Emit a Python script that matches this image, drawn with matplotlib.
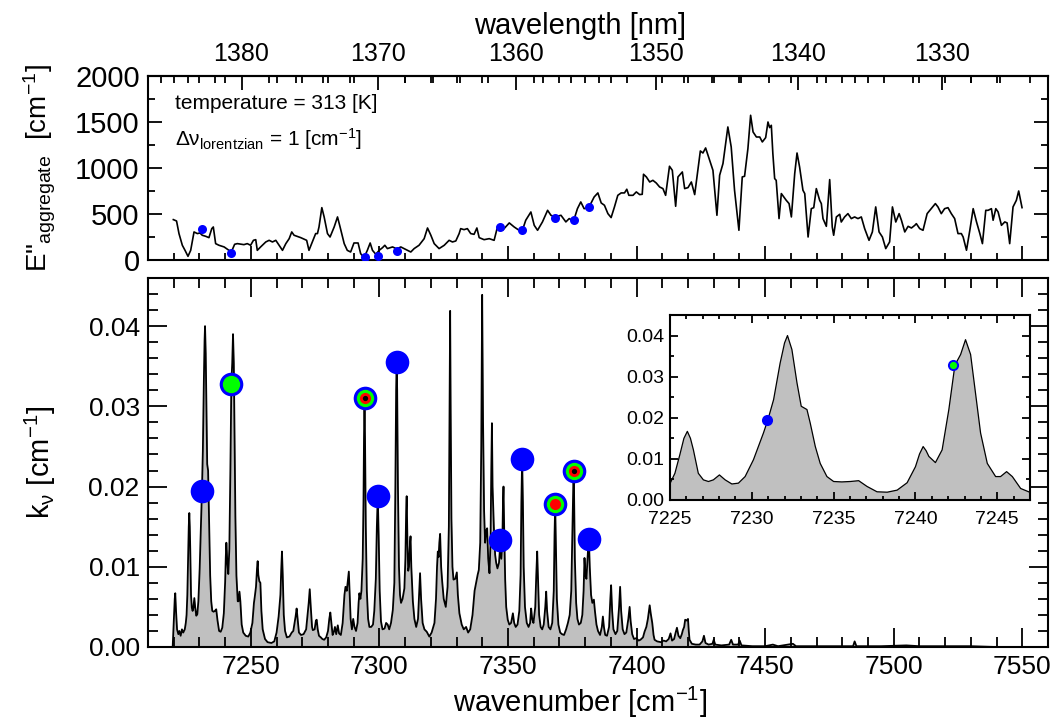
import matplotlib
matplotlib.use("Agg")
import matplotlib.pyplot as plt
from matplotlib.ticker import MultipleLocator, FixedLocator, FormatStrFormatter

plt.rcParams["font.family"] = ["Liberation Sans", "DejaVu Sans"]
plt.rcParams["mathtext.fontset"] = "custom"
plt.rcParams["mathtext.rm"] = "Liberation Sans"
plt.rcParams["mathtext.it"] = "Liberation Sans"

# absorption spectrum k_nu [cm-1] vs wavenumber [cm-1]
spec_wn = [
    7219.0, 7219.6, 7220.0, 7220.4, 7220.6, 7220.9, 7221.3, 7221.8, 7222.2, 7222.7,
    7223.2, 7223.7, 7224.3, 7224.7, 7225.0, 7225.3, 7225.6, 7225.85, 7226.06, 7226.25,
    7226.43, 7226.73, 7227.04, 7227.35, 7227.65, 7228.02, 7228.37, 7228.78, 7229.18, 7229.59,
    7230.1, 7230.71, 7230.98, 7231.33, 7231.73, 7232.0, 7232.18, 7232.45, 7232.76, 7233.02,
    7233.2, 7233.37, 7233.57, 7233.88, 7234.18, 7234.59, 7235.0, 7235.5, 7236.02, 7236.53,
    7237.04, 7237.65, 7238.27, 7238.88, 7239.49, 7240.0, 7240.25, 7240.47, 7240.65, 7240.82,
    7241.22, 7241.63, 7242.04, 7242.41, 7242.76, 7243.06, 7243.37, 7243.67, 7243.98, 7244.39,
    7244.9, 7245.2, 7245.57, 7245.92, 7246.43, 7247.04, 7248.0, 7249.0, 7249.8, 7250.6,
    7251.2, 7251.5, 7252.0, 7252.4, 7252.65, 7252.9, 7253.3, 7253.7, 7254.1, 7254.6,
    7255.5, 7256.5, 7258.0, 7259.1, 7260.0, 7260.8, 7261.5, 7261.8, 7262.1, 7262.4,
    7262.8, 7263.3, 7264.0, 7265.0, 7265.9, 7266.5, 7267.4, 7267.8, 7268.2, 7268.7,
    7269.5, 7270.5, 7271.5, 7272.5, 7272.9, 7273.3, 7273.8, 7274.1, 7274.8, 7275.3,
    7275.6, 7276.0, 7276.5, 7277.2, 7277.8, 7278.5, 7279.3, 7280.0, 7280.5, 7280.9,
    7281.3, 7281.8, 7282.3, 7282.7, 7283.2, 7283.8, 7284.3, 7285.0, 7285.7, 7286.4,
    7286.8, 7287.3, 7287.8, 7288.1, 7288.4, 7288.8, 7289.3, 7289.8, 7290.3, 7290.9,
    7291.5, 7291.9, 7292.2, 7292.6, 7293.0, 7293.5, 7293.8, 7294.0, 7294.2, 7294.4,
    7294.7, 7295.1, 7295.6, 7296.1, 7296.8, 7297.5, 7298.0, 7298.6, 7299.0, 7299.35,
    7299.7, 7300.1, 7300.6, 7301.2, 7302.0, 7302.6, 7303.2, 7303.8, 7304.5, 7305.2,
    7305.8, 7306.2, 7306.5, 7306.7, 7306.9, 7307.2, 7307.6, 7308.0, 7308.4, 7309.0,
    7309.7, 7310.1, 7310.4, 7310.6, 7310.9, 7311.2, 7311.5, 7311.9, 7312.1, 7312.4,
    7313.0, 7313.6, 7314.3, 7315.0, 7315.5, 7315.8, 7316.2, 7316.8, 7317.5, 7318.4,
    7319.4, 7320.3, 7321.4, 7322.0, 7322.4, 7322.7, 7323.0, 7323.3, 7323.6, 7324.0,
    7324.4, 7325.0, 7325.8, 7326.5, 7327.0, 7327.3, 7327.5, 7327.7, 7328.0, 7328.4,
    7328.8, 7329.5, 7330.1, 7330.5, 7331.1, 7332.0, 7332.8, 7333.7, 7334.5, 7335.3,
    7336.2, 7337.0, 7337.6, 7338.2, 7338.65, 7339.2, 7339.6, 7339.95, 7340.3, 7340.7,
    7341.1, 7341.5, 7341.9, 7342.3, 7342.8, 7343.2, 7343.5, 7343.75, 7344.0, 7344.5,
    7345.0, 7345.4, 7345.9, 7346.5, 7347.0, 7347.4, 7347.8, 7348.05, 7348.25, 7348.5,
    7348.9, 7349.3, 7349.9, 7350.5, 7351.2, 7351.9, 7352.4, 7353.0, 7353.7, 7354.4,
    7354.9, 7355.2, 7355.5, 7355.8, 7356.1, 7356.6, 7357.3, 7358.0, 7358.6, 7359.0,
    7359.4, 7359.9, 7360.6, 7361.0, 7361.35, 7361.7, 7362.1, 7362.7, 7363.3, 7363.9,
    7364.5, 7364.85, 7365.2, 7365.8, 7366.5, 7367.2, 7367.8, 7368.1, 7368.35, 7368.6,
    7369.0, 7369.6, 7370.3, 7371.0, 7371.8, 7372.6, 7373.3, 7374.0, 7374.6, 7375.0,
    7375.3, 7375.5, 7375.7, 7376.0, 7376.5, 7377.0, 7377.6, 7378.3, 7378.9, 7379.4,
    7379.75, 7380.1, 7380.5, 7381.1, 7381.45, 7381.8, 7382.3, 7382.8, 7383.4, 7383.8,
    7384.4, 7385.0, 7385.8, 7386.5, 7386.9, 7387.3, 7387.8, 7388.5, 7389.3, 7389.8,
    7390.1, 7390.5, 7391.0, 7391.8, 7392.5, 7393.2, 7393.6, 7394.0, 7394.6, 7395.3,
    7396.0, 7396.8, 7397.3, 7397.7, 7398.3, 7399.0, 7399.9, 7400.8, 7401.5, 7402.5,
    7403.1, 7403.8, 7404.4, 7404.8, 7405.1, 7405.5, 7406.1, 7406.6, 7407.0, 7408.0,
    7409.5, 7410.5, 7411.5, 7412.5, 7413.2, 7413.8, 7414.6, 7415.2, 7415.7, 7416.3,
    7417.0, 7417.6, 7418.0, 7418.5, 7418.9, 7419.5, 7420.0, 7420.3, 7420.6, 7421.5,
    7423.0, 7424.5, 7425.6, 7426.2, 7426.8, 7428.0, 7429.5, 7430.0, 7430.6, 7433.0,
    7436.0, 7436.8, 7437.5, 7439.5, 7440.1, 7440.8, 7445.0, 7450.0, 7453.0, 7455.0,
    7460.8, 7462.0, 7470.0, 7484.2, 7484.8, 7485.5, 7495.0, 7504.9, 7510.0, 7520.0,
    7530.0, 7540.0, 7555.0,
]
spec_k = [
    0.0, 0.0, 0.0030, 0.0060, 0.0067, 0.0045, 0.0022, 0.0016, 0.0020, 0.0014,
    0.0022, 0.0018, 0.0022, 0.0030, 0.0040, 0.0065, 0.0110, 0.0150, 0.0167, 0.0150,
    0.0122, 0.0065, 0.0049, 0.0045, 0.0049, 0.0061, 0.0049, 0.0039, 0.0041, 0.0057,
    0.0098, 0.0163, 0.0195, 0.0244, 0.0333, 0.0382, 0.0400, 0.0366, 0.0285, 0.0228,
    0.0224, 0.0220, 0.0187, 0.0130, 0.0089, 0.0057, 0.0045, 0.0044, 0.0045, 0.0047,
    0.0033, 0.0020, 0.0019, 0.0024, 0.0042, 0.0081, 0.0112, 0.0130, 0.0120, 0.0106,
    0.0091, 0.0122, 0.0220, 0.0328, 0.0354, 0.0390, 0.0354, 0.0260, 0.0163, 0.0089,
    0.0057, 0.0057, 0.0069, 0.0057, 0.0028, 0.0018, 0.0014, 0.0013, 0.0018, 0.0030,
    0.0055, 0.0062, 0.0075, 0.0098, 0.0107, 0.0090, 0.0082, 0.0080, 0.0045, 0.0022,
    0.0010, 0.0006, 0.0005, 0.0007, 0.0018, 0.0038, 0.0065, 0.0095, 0.0119, 0.0090,
    0.0040, 0.0020, 0.0012, 0.0013, 0.0018, 0.0020, 0.0038, 0.0048, 0.0035, 0.0018,
    0.0015, 0.0016, 0.0022, 0.0055, 0.0072, 0.0050, 0.0025, 0.0021, 0.0022, 0.0033,
    0.0034, 0.0022, 0.0014, 0.0012, 0.0010, 0.0009, 0.0012, 0.0020, 0.0035, 0.0043,
    0.0030, 0.0015, 0.0019, 0.0025, 0.0016, 0.0027, 0.0017, 0.0015, 0.0030, 0.0065,
    0.0075, 0.0070, 0.0085, 0.0094, 0.0070, 0.0035, 0.0022, 0.0035, 0.0025, 0.0020,
    0.0030, 0.0055, 0.0067, 0.0060, 0.0070, 0.0110, 0.0180, 0.0260, 0.0310, 0.0260,
    0.0150, 0.0070, 0.0035, 0.0025, 0.0025, 0.0028, 0.0045, 0.0085, 0.0150, 0.0188,
    0.0140, 0.0070, 0.0032, 0.0022, 0.0023, 0.0030, 0.0028, 0.0022, 0.0030, 0.0046,
    0.0080, 0.0200, 0.0320, 0.0355, 0.0320, 0.0200, 0.0100, 0.0065, 0.0055, 0.0060,
    0.0073, 0.0110, 0.0170, 0.0188, 0.0130, 0.0095, 0.0100, 0.0130, 0.0138, 0.0100,
    0.0057, 0.0035, 0.0025, 0.0035, 0.0070, 0.0092, 0.0060, 0.0030, 0.0022, 0.0019,
    0.0013, 0.0018, 0.0030, 0.0060, 0.0100, 0.0119, 0.0112, 0.0130, 0.0141, 0.0100,
    0.0082, 0.0060, 0.0050, 0.0075, 0.0150, 0.0300, 0.0419, 0.0300, 0.0160, 0.0100,
    0.0084, 0.0085, 0.0093, 0.0065, 0.0042, 0.0028, 0.0022, 0.0025, 0.0018, 0.0022,
    0.0040, 0.0070, 0.0080, 0.0090, 0.0096, 0.0130, 0.0250, 0.0439, 0.0280, 0.0170,
    0.0130, 0.0145, 0.0148, 0.0110, 0.0092, 0.0130, 0.0220, 0.0279, 0.0200, 0.0150,
    0.0115, 0.0105, 0.0098, 0.0105, 0.0128, 0.0110, 0.0130, 0.0180, 0.0200, 0.0150,
    0.0084, 0.0050, 0.0034, 0.0028, 0.0030, 0.0042, 0.0030, 0.0025, 0.0028, 0.0045,
    0.0090, 0.0180, 0.0234, 0.0180, 0.0100, 0.0050, 0.0030, 0.0025, 0.0030, 0.0048,
    0.0035, 0.0030, 0.0050, 0.0090, 0.0119, 0.0080, 0.0040, 0.0025, 0.0022, 0.0028,
    0.0050, 0.0069, 0.0045, 0.0025, 0.0022, 0.0030, 0.0070, 0.0140, 0.0178, 0.0130,
    0.0060, 0.0028, 0.0018, 0.0016, 0.0015, 0.0022, 0.0030, 0.0040, 0.0070, 0.0140,
    0.0200, 0.0220, 0.0190, 0.0110, 0.0055, 0.0035, 0.0028, 0.0030, 0.0040, 0.0070,
    0.0111, 0.0090, 0.0085, 0.0120, 0.0135, 0.0100, 0.0065, 0.0055, 0.0059, 0.0045,
    0.0028, 0.0020, 0.0015, 0.0025, 0.0038, 0.0025, 0.0015, 0.0014, 0.0025, 0.0060,
    0.0077, 0.0045, 0.0022, 0.0016, 0.0020, 0.0050, 0.0075, 0.0045, 0.0022, 0.0016,
    0.0018, 0.0035, 0.0050, 0.0032, 0.0016, 0.0010, 0.0011, 0.0008, 0.0009, 0.0012,
    0.0019, 0.0025, 0.0035, 0.0045, 0.0052, 0.0042, 0.0030, 0.0015, 0.0009, 0.0007,
    0.0006, 0.0008, 0.0007, 0.0010, 0.0017, 0.0008, 0.0010, 0.0018, 0.0024, 0.0014,
    0.0011, 0.0016, 0.0021, 0.0025, 0.0034, 0.0033, 0.0035, 0.0020, 0.0009, 0.0004,
    0.0003, 0.0003, 0.0007, 0.0014, 0.0005, 0.0003, 0.0004, 0.0009, 0.0003, 0.0002,
    0.0003, 0.0009, 0.0003, 0.0003, 0.0008, 0.0002, 0.0001, 0.0001, 0.0003, 0.0001,
    0.0004, 0.0001, 0.0001, 0.0001, 0.0007, 0.0001, 0.0001, 0.0002, 0.0001, 0.0001,
    0.0001, 0.0, 0.0,
]

# aggregate lower-state energy E'' [cm-1] vs wavenumber
e_wn = [
    7219.85, 7221.1, 7222.05, 7223.35, 7224.4, 7225.55, 7226.6, 7227.9, 7229.2, 7230.2,
    7231.1, 7232.4, 7233.7, 7234.8, 7235.4, 7236.3, 7237.6, 7239.6, 7241.5, 7242.4,
    7243.7, 7244.75, 7247.3, 7248.6, 7249.9, 7251.0, 7251.9, 7252.5, 7253.8, 7255.8,
    7257.1, 7258.4, 7259.7, 7261.0, 7262.3, 7263.6, 7264.9, 7265.9, 7266.8, 7269.4,
    7271.7, 7272.6, 7273.9, 7275.2, 7275.9, 7276.5, 7277.6, 7278.5, 7279.8, 7280.8,
    7282.4, 7283.7, 7284.7, 7286.3, 7287.5, 7288.8, 7290.1, 7291.7, 7292.7, 7294.0,
    7295.3, 7296.4, 7297.3, 7298.6, 7299.9, 7301.2, 7302.1, 7303.1, 7305.1, 7306.8,
    7308.3, 7309.6, 7310.9, 7312.2, 7313.5, 7315.4, 7317.4, 7318.7, 7320.0, 7321.3,
    7323.2, 7325.2, 7327.1, 7328.4, 7329.7, 7331.0, 7331.6, 7332.9, 7334.2, 7335.5,
    7336.8, 7337.9, 7338.8, 7340.7, 7342.7, 7344.6, 7345.9, 7347.9, 7350.5, 7352.4,
    7354.3, 7355.6, 7356.9, 7358.9, 7360.2, 7361.5, 7363.4, 7365.4, 7366.7, 7368.2,
    7370.6, 7372.5, 7373.8, 7375.5, 7377.0, 7378.3, 7379.6, 7381.4, 7383.5, 7384.95,
    7386.25, 7387.5, 7388.85, 7390.1, 7391.4, 7392.7, 7394.0, 7395.3, 7396.2, 7397.0,
    7398.6, 7399.9, 7401.2, 7402.2, 7402.7, 7403.8, 7405.1, 7406.35, 7407.65, 7408.95,
    7410.25, 7411.3, 7412.8, 7413.9, 7415.2, 7416.1, 7417.8, 7418.7, 7420.0, 7421.3,
    7422.6, 7424.8, 7425.8, 7426.85, 7428.4, 7429.7, 7431.25, 7432.3, 7433.6, 7435.5,
    7436.8, 7438.1, 7439.8, 7441.1, 7442.0, 7443.3, 7444.35, 7445.3, 7446.6, 7447.9,
    7448.9, 7450.2, 7451.1, 7451.75, 7452.4, 7453.0, 7453.7, 7454.3, 7455.4, 7456.3,
    7458.2, 7459.3, 7460.2, 7461.5, 7462.4, 7463.4, 7464.7, 7465.4, 7466.7, 7467.95,
    7468.9, 7469.9, 7471.2, 7471.85, 7472.5, 7473.8, 7475.1, 7476.1, 7476.65, 7477.7,
    7479.0, 7479.6, 7480.9, 7482.2, 7483.5, 7484.8, 7486.1, 7487.4, 7488.7, 7490.4,
    7491.7, 7493.0, 7494.3, 7495.6, 7496.9, 7498.4, 7499.5, 7500.8, 7502.1, 7503.0,
    7504.3, 7505.6, 7506.9, 7508.2, 7508.8, 7510.1, 7511.4, 7513.0, 7514.6, 7516.2,
    7517.2, 7518.5, 7519.8, 7521.1, 7522.4, 7523.7, 7525.0, 7526.3, 7527.0, 7528.3,
    7529.6, 7530.9, 7532.2, 7533.5, 7534.5, 7535.8, 7536.7, 7538.0, 7538.65, 7539.7,
    7540.6, 7541.9, 7543.2, 7544.1, 7545.1, 7546.4, 7547.7, 7548.6, 7549.9,
]
e_val = [
    439, 424, 287, 160, 105, 40, 105, 305, 287, 294,
    269, 258, 243, 341, 359, 178, 160, 142, 105, 87,
    171, 178, 167, 178, 160, 214, 221, 105, 142, 196,
    214, 196, 214, 160, 105, 178, 232, 305, 269, 243,
    214, 105, 196, 287, 287, 359, 569, 468, 287, 250,
    359, 468, 359, 178, 105, 87, 185, 185, 69, 26,
    105, 185, 105, 62, 105, 134, 160, 124, 142, 120,
    142, 124, 105, 87, 124, 160, 232, 348, 269, 178,
    124, 160, 214, 196, 207, 287, 341, 330, 341, 287,
    279, 348, 243, 221, 232, 214, 359, 323, 403, 359,
    323, 323, 432, 522, 377, 323, 414, 540, 486, 468,
    486, 414, 450, 424, 558, 631, 558, 569, 685, 729,
    620, 595, 504, 461, 577, 703, 729, 729, 769, 703,
    703, 740, 711, 714, 932, 903, 848, 866, 837, 794,
    776, 703, 1019, 975, 584, 903, 957, 776, 787, 848,
    711, 1185, 1163, 1218, 1084, 975, 486, 921, 1048, 1446,
    1229, 758, 323, 903, 910, 1211, 1573, 1392, 1337, 1337,
    1283, 1330, 1500, 1439, 1464, 1156, 885, 866, 450, 722,
    649, 613, 468, 939, 1163, 1011, 758, 722, 250, 558,
    569, 776, 649, 613, 450, 366, 874, 359, 269, 468,
    497, 413, 468, 504, 450, 468, 450, 468, 341, 214,
    305, 577, 305, 250, 124, 196, 577, 413, 504, 432,
    305, 366, 348, 377, 395, 341, 323, 504, 558, 613,
    577, 504, 558, 569, 504, 450, 287, 287, 250, 106,
    323, 558, 414, 287, 178, 540, 540, 558, 432, 558,
    522, 377, 414, 403, 178, 577, 649, 750, 569,
]

# selected lines (markers)
mark_wn = [7230.9, 7242.3, 7294.2, 7299.3, 7306.7, 7347.0, 7355.5, 7368.4, 7375.5, 7381.4]
mark_k = [0.0195, 0.0328, 0.0310, 0.0188, 0.0355, 0.0133, 0.0234, 0.0178, 0.0220, 0.0135]
mark_e = [334, 73, 33, 44, 98, 363, 330, 453, 439, 573]
mark_level = [0, 1, 3, 0, 0, 0, 0, 2, 3, 0]  # 0 blue, 1 +green, 2 +red, 3 +black

nm_major = [1330, 1340, 1350, 1360, 1370, 1380]
nm_minor = list(range(1324, 1388, 2))

ring_colors = ["#0000ff", "#00ff00", "#ff0000", "#000000"]
ring_sizes = [17, 12.5, 8, 3.8]
inset_sizes = [8, 5.2, 3.4, 1.6]

W, H = 1056, 721
fig = plt.figure(figsize=(W / 100, H / 100), dpi=100)


def px_axes(l, t, r, b):
    return fig.add_axes([l / W, 1 - b / H, (r - l) / W, (b - t) / H])


def style(ax, size, major, minor, pad=6):
    ax.tick_params(which="both", direction="in", top=True, right=True,
                   width=1.3, labelsize=size, pad=pad)
    ax.tick_params(which="major", length=major)
    ax.tick_params(which="minor", length=minor)
    for sp in ax.spines.values():
        sp.set_linewidth(1.5)


def draw_markers(axis, sizes):
    for lvl in range(4):
        xs = [w for w, l in zip(mark_wn, mark_level) if l >= lvl]
        ys = [k for k, l in zip(mark_k, mark_level) if l >= lvl]
        axis.plot(xs, ys, "o", ms=sizes[lvl], color=ring_colors[lvl], mec="none", zorder=3 + lvl)


# --- top panel: E'' ---
ax_top = px_axes(148, 76, 1048, 260)
ax_top.plot(e_wn, e_val, color="black", lw=1.2, zorder=2)
ax_top.plot(mark_wn, mark_e, "o", ms=6.5, color="#0000ff", mec="none", zorder=3)
ax_top.set_xlim(7210, 7560)
ax_top.set_ylim(0, 2000)
ax_top.xaxis.set_major_locator(MultipleLocator(50))
ax_top.xaxis.set_minor_locator(MultipleLocator(10))
ax_top.yaxis.set_major_locator(MultipleLocator(500))
ax_top.yaxis.set_minor_locator(MultipleLocator(250))
style(ax_top, 21, 10, 5)
ax_top.tick_params(axis="x", top=False, labelbottom=False)
ax_top.set_ylabel(r'E"$_{\mathregular{aggregate}}$  [cm$^{\mathregular{-1}}$]', fontsize=20)
ax_top.yaxis.set_label_coords(-0.10, 0.5)
ax_top.text(0.03, 0.848, "temperature = 313 [K]", transform=ax_top.transAxes,
            fontsize=15, va="center")
ax_top.text(0.03, 0.655, r"$\mathregular{\Delta\nu_{lorentzian}}$ = 1 [cm$^{\mathregular{-1}}$]",
            transform=ax_top.transAxes, fontsize=15, va="center")

sec = ax_top.secondary_xaxis("top", functions=(lambda x: 1e7 / x, lambda x: 1e7 / x))
sec.xaxis.set_major_locator(FixedLocator(nm_major))
sec.xaxis.set_minor_locator(FixedLocator(nm_minor))
sec.tick_params(which="both", direction="in", width=1.3, labelsize=18, pad=7)
sec.tick_params(which="major", length=10)
sec.tick_params(which="minor", length=5)
sec.set_xlabel("wavelength [nm]", fontsize=21, labelpad=6)
sec.xaxis.label.set_x(0.48)
sec.spines["top"].set_linewidth(1.5)

# --- main panel: k_nu ---
ax = px_axes(148, 278, 1048, 647)
ax.fill_between(spec_wn, spec_k, 0, color="#c0c0c0", lw=0, zorder=1)
ax.plot(spec_wn, spec_k, color="black", lw=1.3, zorder=2)
draw_markers(ax, ring_sizes)
ax.set_xlim(7210, 7560)
ax.set_ylim(0, 0.046)
ax.xaxis.set_major_locator(MultipleLocator(50))
ax.xaxis.set_minor_locator(MultipleLocator(10))
ax.yaxis.set_major_locator(MultipleLocator(0.01))
ax.yaxis.set_minor_locator(MultipleLocator(0.002))
ax.yaxis.set_major_formatter(FormatStrFormatter("%.2f"))
style(ax, 19, 14, 7)
ax.set_xlabel(r"wavenumber [cm$^{\mathregular{-1}}$]", fontsize=21)
ax.xaxis.set_label_coords(0.48, -0.102)
ax.set_ylabel(r"k$_{\mathregular{\nu}}$ [cm$^{\mathregular{-1}}$]", fontsize=21)
ax.yaxis.set_label_coords(-0.10, 0.5)

# --- inset ---
ins = px_axes(670, 315, 1030, 500)
ins.fill_between(spec_wn, spec_k, 0, color="#c0c0c0", lw=0, zorder=1)
ins.plot(spec_wn, spec_k, color="black", lw=0.9, zorder=2)
draw_markers(ins, inset_sizes)
ins.set_xlim(7225, 7247)
ins.set_ylim(0, 0.045)
ins.xaxis.set_major_locator(MultipleLocator(5))
ins.xaxis.set_minor_locator(MultipleLocator(1))
ins.yaxis.set_major_locator(MultipleLocator(0.01))
ins.yaxis.set_minor_locator(MultipleLocator(0.005))
ins.yaxis.set_major_formatter(FormatStrFormatter("%.2f"))
style(ins, 14, 6, 3, pad=4)
ins.tick_params(axis="x", pad=8)

fig.savefig("out.png", dpi=100)
